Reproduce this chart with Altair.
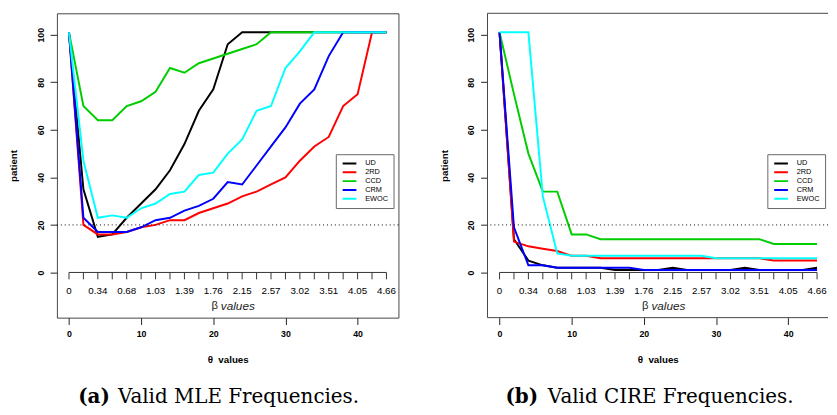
import altair as alt
import pandas as pd

theta = list(range(0, 46, 2))
methods = ["UD", "2RD", "CCD", "CRM", "EWOC"]
colors = ["#000000", "#FF0000", "#00CD00", "#0000FF", "#00FFFF"]

# Panel (a): valid MLE frequencies
mle_ud = [101, 35, 15, 16, 23, 29, 35, 43, 54, 68, 77, 96, 101, 101, 101, 101, 101, 101, 101, 101, 101, 101, 101]
mle_2rd = [101, 20, 16, 16, 17, 19, 20, 22, 22, 25, 27, 29, 32, 34, 37, 40, 47, 53, 57, 70, 75, 101, 101]
mle_ccd = [101, 70, 64, 64, 70, 72, 76, 86, 84, 88, 90, 92, 94, 96, 101, 101, 101, 101, 101, 101, 101, 101, 101]
mle_crm = [101, 23, 17, 17, 17, 19, 22, 23, 26, 28, 31, 38, 37, 45, 53, 61, 71, 77, 91, 101, 101, 101, 101]
mle_ewoc = [101, 47, 23, 24, 23, 27, 29, 33, 34, 41, 42, 50, 56, 68, 70, 86, 93, 101, 101, 101, 101, 101, 101]

# Panel (b): valid CIRE frequencies
cire_ud = [101, 14, 5, 3, 2, 2, 2, 2, 1, 1, 1, 1, 2, 1, 1, 1, 1, 2, 1, 1, 1, 1, 2]
cire_2rd = [101, 13, 11, 10, 9, 7, 7, 6, 6, 6, 6, 6, 6, 6, 6, 6, 6, 6, 6, 5, 5, 5, 5]
cire_ccd = [101, 75, 50, 34, 34, 16, 16, 14, 14, 14, 14, 14, 14, 14, 14, 14, 14, 14, 14, 12, 12, 12, 12]
cire_crm = [101, 19, 3, 3, 2, 2, 2, 2, 2, 2, 1, 1, 1, 1, 1, 1, 1, 1, 1, 1, 1, 1, 1]
cire_ewoc = [101, 101, 101, 32, 8, 7, 7, 7, 7, 7, 7, 7, 7, 7, 7, 6, 6, 6, 6, 6, 6, 6, 6]

beta_at = [0, 4, 8, 12, 16, 20, 24, 28, 32, 36, 40, 44]
beta_labels = ["0", "0.34", "0.68", "1.03", "1.39", "1.76", "2.15", "2.57", "3.02", "3.51", "4.05", "4.66"]
theta_ticks = [0, 10, 20, 30, 40]
patient_ticks = [0, 20, 40, 60, 80, 100]
threshold = [20]

X_MIN = -1.67
Y_MIN, Y_MAX = -19, 109

SANS = "Liberation Sans"
SERIF = "DejaVu Serif"
FRAME = "#444"


def long_frame(series):
    rows = []
    for m, vals in zip(methods, series):
        for t, v in zip(theta, vals):
            rows.append({"theta": t, "value": v, "method": m})
    return pd.DataFrame(rows)


def panel(series, tag, text, width, xmax, tag_x, text_x, legend_x, open_right):
    xs = alt.Scale(domain=[X_MIN, xmax], nice=False, zero=False)
    ys = alt.Scale(domain=[Y_MIN, Y_MAX], nice=False, zero=False)
    xaxis = alt.Axis(values=theta_ticks, title="θ\u00a0\u00a0values", grid=False, domain=False,
                     tickSize=7, tickColor="#222", labelPadding=5, labelFontSize=9,
                     labelFont=SANS, labelFontWeight="bold", labelColor="black",
                     titleFont=SANS, titleFontWeight="bold", titleFontSize=10, titleColor="black",
                     titleY=43, titleBaseline="middle")
    yaxis = alt.Axis(values=patient_ticks, title="patient", grid=False, domain=False,
                     tickSize=7, tickColor="#222", labelPadding=7, labelFontSize=9,
                     labelFont=SANS, labelFontWeight="bold", labelColor="black",
                     labelAngle=270, labelAlign="center", labelBaseline="alphabetic",
                     titleFont=SANS, titleFontWeight="bold", titleFontSize=10, titleColor="black",
                     titleAngle=270, titleX=-44, titleY=155.5, titleAlign="center",
                     titleBaseline="middle")
    leg = alt.Legend(orient="none", legendX=legend_x, legendY=144, title=None,
                     symbolType="stroke", symbolSize=196, symbolStrokeWidth=2,
                     clipHeight=9, rowPadding=0, labelFontSize=7.5, labelFont=SANS,
                     labelColor="black", labelOffset=8, padding=5, symbolOffset=1,
                     fillColor="white", strokeColor="#666")

    lines = alt.Chart(long_frame(series)).mark_line(strokeWidth=2).encode(
        x=alt.X("theta:Q", scale=xs, axis=xaxis),
        y=alt.Y("value:Q", scale=ys, axis=yaxis),
        color=alt.Color("method:N", scale=alt.Scale(domain=methods, range=colors), legend=leg),
    )

    thr = alt.Chart(pd.DataFrame({"value": threshold})).mark_rule(
        color="black", strokeDash=[1, 3], strokeWidth=1
    ).encode(y=alt.Y("value:Q", scale=ys))

    bline = alt.Chart(pd.DataFrame({"theta": [theta[0]], "theta2": [theta[-1]]})).mark_rule(
        color="#333", strokeWidth=1
    ).encode(x=alt.X("theta:Q", scale=xs), x2="theta2:Q", y=alt.datum(0))

    bticks = alt.Chart(pd.DataFrame({"theta": theta})).mark_rule(
        color="#333", strokeWidth=1
    ).encode(x=alt.X("theta:Q", scale=xs), y=alt.datum(0), y2=alt.datum(-2.9))

    blabels = alt.Chart(pd.DataFrame({"theta": beta_at, "label": beta_labels})).mark_text(
        dy=19, baseline="middle", fontSize=10, font=SANS, color="black"
    ).encode(x=alt.X("theta:Q", scale=xs), y=alt.datum(0), text="label:N")

    btitle_sym = alt.Chart(pd.DataFrame({"theta": [22]})).mark_text(
        dy=34, dx=-10, align="right", baseline="middle", fontSize=11.5, font=SANS, color="#222",
        text="β"
    ).encode(x=alt.X("theta:Q", scale=xs), y=alt.datum(0))
    btitle_txt = alt.Chart(pd.DataFrame({"theta": [22]})).mark_text(
        dy=34, dx=-7, align="left", baseline="middle", fontSize=12, font=SANS, color="#222",
        fontStyle="italic", text="values"
    ).encode(x=alt.X("theta:Q", scale=xs), y=alt.datum(0))

    cap_df = pd.DataFrame({"k": [0]})
    cap_tag = alt.Chart(cap_df).mark_text(
        align="left", baseline="alphabetic", fontSize=20.3, font=SERIF, fontWeight="bold",
        color="black", text=tag
    ).encode(x=alt.value(tag_x), y=alt.value(398))
    cap_txt = alt.Chart(cap_df).mark_text(
        align="left", baseline="alphabetic", fontSize=20.3, font=SERIF, color="black", text=text
    ).encode(x=alt.value(text_x), y=alt.value(398))

    layers = [lines, thr, bline, bticks, blabels, btitle_sym, btitle_txt, cap_tag, cap_txt]
    props = dict(width=width, height=311)
    if open_right:
        # frame without the right edge (it lies beyond the picture in the original)
        frame_h = alt.Chart(pd.DataFrame({"value": [Y_MIN, Y_MAX]})).mark_rule(
            color=FRAME, strokeWidth=1
        ).encode(y=alt.Y("value:Q", scale=ys))
        frame_v = alt.Chart(pd.DataFrame({"theta": [X_MIN]})).mark_rule(
            color=FRAME, strokeWidth=1
        ).encode(x=alt.X("theta:Q", scale=xs))
        layers = layers + [frame_h, frame_v]
        props["view"] = alt.ViewBackground(stroke="transparent")
    return alt.layer(*layers).properties(**props)


pa = panel([mle_ud, mle_2rd, mle_ccd, mle_crm, mle_ewoc], "(a)", "Valid MLE Frequencies.",
           349, 45.66, 21.7, 62.3, 285, False)
pb = panel([cire_ud, cire_2rd, cire_ccd, cire_crm, cire_ewoc], "(b)", "Valid CIRE Frequencies.",
           348, 45.52, 18.3, 61.7, 286, True)

chart = alt.hconcat(pa, pb, spacing=40).resolve_scale(color="independent").properties(
    padding=0, background="white"
).configure_view(stroke=FRAME, strokeWidth=1)

chart.save("out.html", embed_options={"renderer": "svg", "actions": False})
